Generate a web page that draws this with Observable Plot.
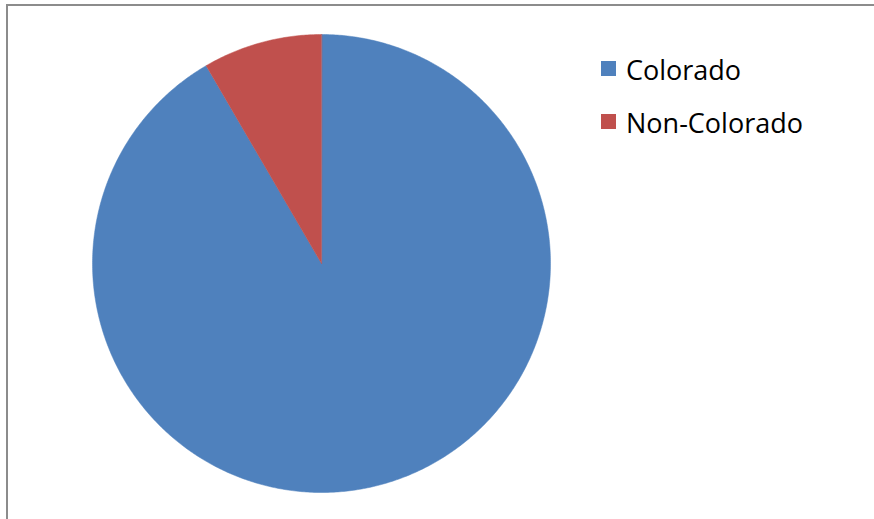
<!DOCTYPE html>
<html>
<head>
<meta charset="utf-8">
<script src="https://cdn.jsdelivr.net/npm/d3@7"></script>
<script src="https://cdn.jsdelivr.net/npm/@observablehq/plot@0.6"></script>
<style>
  html, body { margin: 0; padding: 0; background: #fff; }
  #wrap { position: relative; width: 874px; height: 519px; overflow: hidden; }
  #frame { position: absolute; left: 6px; top: 4px; width: 900px; height: 600px;
           border-left: 2px solid #8c8c8c; border-top: 2px solid #8c8c8c; box-sizing: border-box; }
  #chart { position: absolute; left: 0; top: 0; }
  .legend { position: absolute; left: 601px; font-family: "Open Sans", sans-serif; font-size: 27px; color: #000; }
  .legend .item { position: absolute; left: 0; white-space: nowrap; display: flex; align-items: center; }
  .legend .sw { width: 15px; height: 15px; margin-right: 10px; position: relative; top: -1px; }
</style>
</head>
<body>
<div id="wrap">
  <div id="frame"></div>
  <div id="chart"></div>
  <div class="legend" id="legend"></div>
</div>
<script>
const categories = ["Colorado", "Non-Colorado"];
const values = [91.6, 8.4];
const colors = ["#4F81BD", "#C0504D"];

const data = categories.map((name, i) => ({name, value: values[i]}));
const arcs = d3.pie().sort(null).value(d => d.value)(data);

// outline each slice as a polygon in unit-circle coordinates (12 o'clock, clockwise)
const pts = [];
arcs.forEach(a => {
  pts.push({name: a.data.name, x: 0, y: 0});
  const n = Math.max(2, Math.ceil((a.endAngle - a.startAngle) / (Math.PI / 360)));
  for (let k = 0; k <= n; k++) {
    const t = a.startAngle + (a.endAngle - a.startAngle) * k / n;
    pts.push({name: a.data.name, x: Math.sin(t), y: -Math.cos(t)});
  }
});

const chart = Plot.plot({
  width: 874,
  height: 519,
  margin: 0,
  style: {background: "transparent"},
  x: {domain: [-1, 1], range: [92, 550], axis: null},
  y: {domain: [-1, 1], range: [34, 492], axis: null},
  color: {domain: categories, range: colors},
  marks: [
    Plot.line(pts, {x: "x", y: "y", z: "name", fill: "name", stroke: "name", strokeWidth: 0.5, curve: "linear-closed"})
  ]
});
document.getElementById("chart").appendChild(chart);

const legend = document.getElementById("legend");
const rowTops = [51, 104];
categories.forEach((c, i) => {
  const item = document.createElement("div");
  item.className = "item";
  item.style.top = rowTops[i] + "px";
  const sw = document.createElement("span");
  sw.className = "sw";
  sw.style.background = colors[i];
  const tx = document.createElement("span");
  tx.textContent = c;
  item.appendChild(sw);
  item.appendChild(tx);
  legend.appendChild(item);
});
</script>
</body>
</html>
